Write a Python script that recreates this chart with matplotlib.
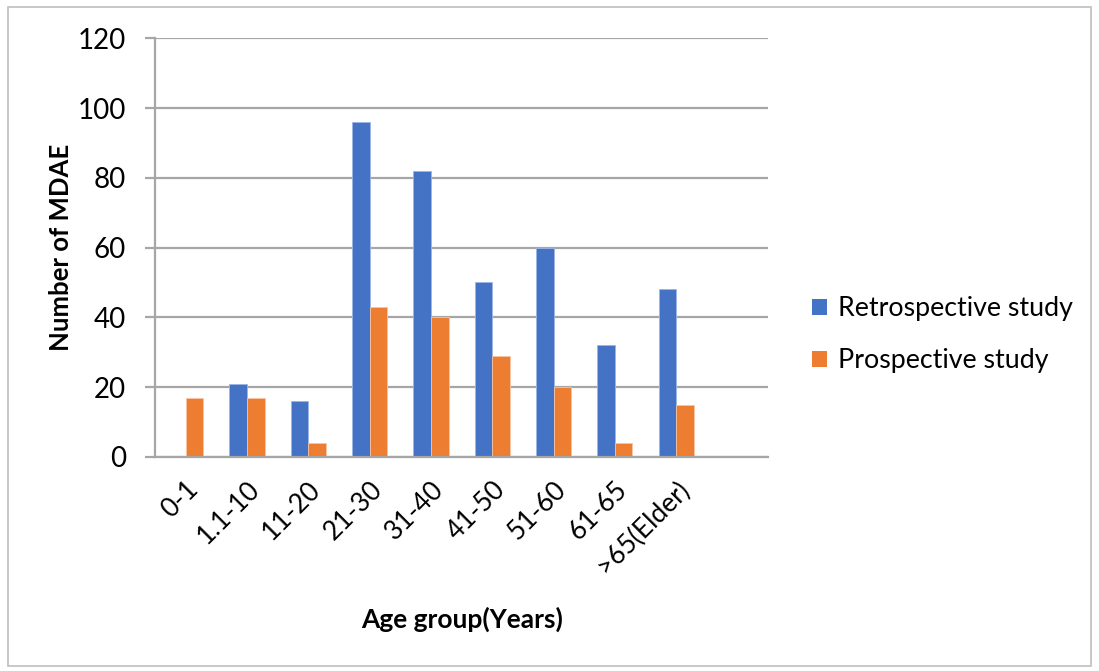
import matplotlib.pyplot as plt
import numpy as np
from matplotlib.patches import Rectangle, Patch

plt.rcParams['font.family'] = ['Lato', 'DejaVu Sans']

age_groups = ["0-1", "1.1-10", "11-20", "21-30", "31-40", "41-50",
              "51-60", "61-65", ">65(Elder)"]
retrospective = [0, 21, 16, 96, 82, 50, 60, 32, 48]
prospective = [17, 17, 4, 43, 40, 29, 20, 4, 15]

blue = "#4472C4"
orange = "#ED7D31"
grid_col = "#A6A6A6"

fig = plt.figure(figsize=(10.99, 6.71), dpi=100)
ax = fig.add_axes([0.141, 0.319, 0.558, 0.624])

x = np.arange(len(age_groups))
w = 0.287
ax.bar(x - w / 2, retrospective, w, color=blue, edgecolor="#9DB5E3", linewidth=0.6)
ax.bar(x + w / 2, prospective, w, color=orange, edgecolor="#F7C4A3", linewidth=0.6)

# one empty category slot on the right
ax.set_xlim(-0.5, len(age_groups) + 0.5)
ax.set_ylim(0, 120)
ax.set_yticks(range(0, 121, 20))
ax.yaxis.grid(True, color=grid_col, linewidth=1.6)
ax.set_axisbelow(True)

for side in ["top", "right"]:
    ax.spines[side].set_visible(False)
ax.spines["left"].set_color(grid_col)
ax.spines["left"].set_linewidth(1.6)
ax.spines["bottom"].set_color(grid_col)
ax.spines["bottom"].set_linewidth(1.6)

ax.tick_params(axis="y", length=7, width=1.6, color=grid_col, labelsize=20,
               labelcolor="#000000", pad=14)
ax.tick_params(axis="x", length=0, pad=14)
ax.set_xticks(x)
ax.set_xticklabels(age_groups, rotation=45, ha="right", rotation_mode="anchor",
                   fontsize=19)

ax.set_ylabel("Number of MDAE", fontsize=18.5, fontweight="bold")
ax.yaxis.set_label_coords(-0.134, 0.5)
ax.set_xlabel("Age group(Years)", fontsize=19, fontweight="bold", labelpad=20)

handles = [Patch(facecolor=blue, label="Retrospective study"),
           Patch(facecolor=orange, label="Prospective study")]
fig.legend(handles=handles, loc="center left", bbox_to_anchor=(0.717, 0.501),
           frameon=False, fontsize=19.3, handlelength=0.55, handleheight=0.55,
           handletextpad=0.4, labelspacing=1.0)

# thin frame around the whole chart
fig.patches.append(Rectangle((0.007, 0.008), 0.986, 0.982, transform=fig.transFigure,
                             fill=False, edgecolor="#BFBFBF", linewidth=1.2))

fig.savefig("out.png", dpi=100)
